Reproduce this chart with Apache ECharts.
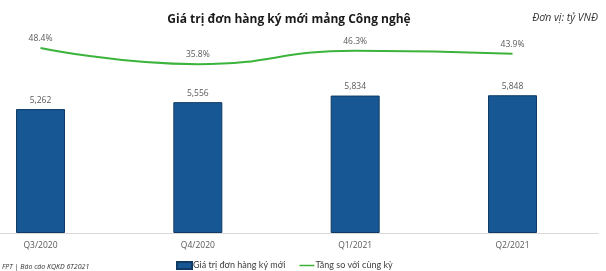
<!DOCTYPE html>
<html><head><meta charset="utf-8">
<script src="https://cdn.jsdelivr.net/npm/echarts@6/dist/echarts.min.js"></script>
<style>html,body{margin:0;padding:0;background:#fff}#c{width:606px;height:271px}</style>
</head><body><div id="c"></div>
<script>
const categories = ['Q3/2020', 'Q4/2020', 'Q1/2021', 'Q2/2021'];
const orderValues = [5262, 5556, 5834, 5848];
const growthPct = [48.4, 35.8, 46.3, 43.9];
const barName = 'Giá trị đơn hàng ký mới';
const lineName = 'Tăng so với cùng kỳ';

const lineIcon = 'path://M0,0 L0.01,0 L0.01,0.01 Z M0,2.8 L22,2.8 L22,5.2 L0,5.2 Z M21.99,8 L22,8 L22,7.99 Z';

const chart = echarts.init(document.getElementById('c'), null, {renderer: 'canvas'});
chart.setOption({
  animation: false,
  backgroundColor: '#fff',
  title: [
    {text: 'Giá trị đơn hàng ký mới mảng Công nghệ', left: 284, top: 9, textAlign: 'center',
     textStyle: {fontFamily: 'Open Sans', fontSize: 12, fontWeight: 'bold', color: '#1a1a1a'}},
    {text: 'Đơn vị: tỷ VNĐ', right: 3, top: 8,
     textStyle: {fontFamily: 'Open Sans', fontSize: 10.5, fontStyle: 'italic', fontWeight: 'normal', color: '#333'}},
    {text: 'FPT | Báo cáo KQKD 6T2021', left: -3, top: 258,
     textStyle: {fontFamily: 'Open Sans', fontSize: 7, fontStyle: 'italic', fontWeight: 'normal', color: '#333'}}
  ],
  legend: {
    left: 171, top: 256, itemGap: 14, itemWidth: 15, itemHeight: 7,
    textStyle: {fontFamily: 'Lato', fontSize: 9, color: '#404040', padding: [0,0,0,-4]},
    data: [{name: barName, icon: 'rect'},
           {name: lineName, icon: lineIcon, itemStyle: {color: '#3cb43c'}}]
  },
  grid: [
    {left: 40.5, right: 93.5, top: 21, bottom: 38},
    {left: 0, right: 8, top: 21, bottom: 38}
  ],
  xAxis: [
    {type: 'category', data: categories, boundaryGap: false, gridIndex: 0,
     axisLine: {show: false}, axisTick: {show: false},
     axisLabel: {fontFamily: 'Open Sans', fontSize: 8.5, color: '#595959', margin: 8}},
    {type: 'category', data: categories, gridIndex: 1,
     axisLine: {lineStyle: {color: '#d9d9d9'}}, axisTick: {show: false}, axisLabel: {show: false}}
  ],
  yAxis: [
    {type: 'value', min: 0, max: 9000, show: false, splitLine: {show: false}, gridIndex: 0},
    {type: 'value', min: -95, max: 69.3, show: false, splitLine: {show: false}, gridIndex: 0},
    {type: 'value', min: 0, max: 1, show: false, splitLine: {show: false}, gridIndex: 1}
  ],
  series: [
    {name: barName, type: 'bar', data: orderValues, barWidth: 49, xAxisIndex: 0, yAxisIndex: 0,
     itemStyle: {color: '#175894', borderColor: '#0e3a64', borderWidth: 1},
     label: {show: true, position: 'top', distance: 4, fontFamily: 'Open Sans', fontSize: 8.5, color: '#595959',
       formatter: p => p.value.toLocaleString('en-US')}},
    {name: lineName, type: 'line', xAxisIndex: 0, yAxisIndex: 1, data: growthPct, smooth: 0.5,
     symbol: 'circle', symbolSize: 0.01, showSymbol: true,
     lineStyle: {color: '#3cb43c', width: 2}, itemStyle: {color: '#3cb43c'},
     label: {show: true, position: 'top', distance: 5, fontFamily: 'Open Sans', fontSize: 8.5, color: '#595959',
       formatter: p => p.value.toFixed(1) + '%'}}
  ]
});
</script></body></html>
